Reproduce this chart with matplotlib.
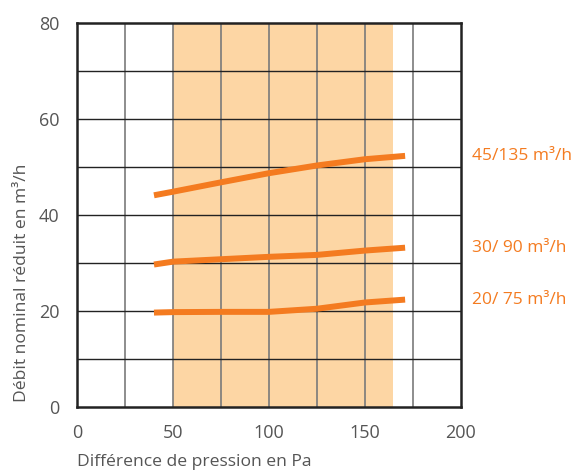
import matplotlib
matplotlib.use("Agg")
import matplotlib.pyplot as plt

pressure = [40, 50, 75, 100, 125, 150, 171]
flow_45 = [44.1, 44.85, 46.8, 48.7, 50.3, 51.6, 52.3]
flow_30 = [29.7, 30.3, 30.8, 31.3, 31.7, 32.6, 33.2]
flow_20 = [19.7, 19.8, 19.85, 19.85, 20.5, 21.8, 22.4]
labels = ["45/135 m³/h", "30/ 90 m³/h", "20/ 75 m³/h"]
band = [50, 164.5]
xticks = [0, 50, 100, 150, 200]
yticks = [0, 20, 40, 60, 80]

plt.rcParams['font.family'] = ['Open Sans', 'DejaVu Sans']
orange = '#F47B20'
text_gray = '#555555'

W, H = 581, 471
fig = plt.figure(figsize=(W/100, H/100), dpi=100)
ax = fig.add_axes([77.3/W, 1 - 407.3/H, (460.7-77.3)/W, (407.3-22.7)/H])
ax.set_xlim(0, 200)
ax.set_ylim(0, 80)
ax.axvspan(band[0], band[1], color='#FDD6A4', zorder=0, lw=0)
for x in range(25, 200, 25):
    ax.axvline(x, color='#7a7a7a', lw=1.2, zorder=1)
for y in range(10, 80, 10):
    ax.axhline(y, color='#222222', lw=1.0, zorder=1)

for ys in (flow_45, flow_30, flow_20):
    ax.plot(pressure, ys, color=orange, lw=4.3, solid_capstyle='butt', zorder=3)

for ys, lab in zip((flow_45, flow_30, flow_20), labels):
    ax.annotate(lab, xy=(1, ys[-1]), xycoords=('axes fraction', 'data'),
                xytext=(8, 0), textcoords='offset points', va='center', ha='left',
                color=orange, fontsize=12.5, annotation_clip=False)

for s in ax.spines.values():
    s.set_linewidth(1.8)
    s.set_color('#222222')
ax.set_xticks(xticks)
ax.set_yticks(yticks)
ax.tick_params(length=0, labelsize=13, colors=text_gray)
ax.tick_params(axis='x', pad=12)
ax.tick_params(axis='y', pad=13)

fig.text(194/W, 1 - 462/H, 'Différence de pression en Pa', fontsize=12.6,
         color=text_gray, ha='center', va='center')
fig.text(22/W, 1 - 283/H, 'Débit nominal réduit en m³/h', fontsize=12.6,
         color=text_gray, ha='center', va='center', rotation=90)

fig.savefig('out.png', dpi=100)
